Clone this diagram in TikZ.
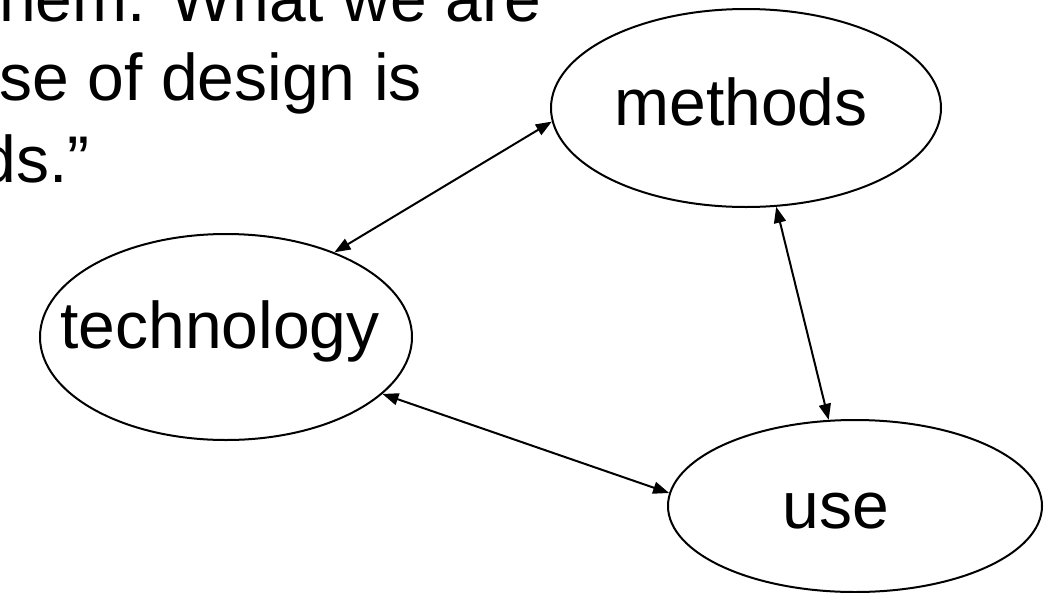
\documentclass[tikz,border=0pt]{standalone}
\usepackage{fontspec}
\setmainfont{Liberation Sans}
\usetikzlibrary{arrows.meta,shapes.geometric}

\begin{document}
\begin{tikzpicture}[x=1pt,y=-1pt,>={Triangle[length=16pt,width=12pt]},
    bubble/.style={ellipse,draw,line width=2pt,inner sep=0pt},
    word/.style={anchor=base,inner sep=0pt,font=\fontsize{66}{79}\selectfont},
    quote/.style={word,anchor=base east},
    link/.style={<->,line width=2pt}]

    \useasboundingbox (0,0) rectangle (1044,592);
    \clip (0,0) rectangle (1044,592);

    % the quotation, cut off at the edge of the slide
    \node[quote] (line1) at (541,21) {hem. What we are};
    \node[quote] (line2) at (422,100) {se of design is};
    \node[quote] (line3) at (90,182) {ds.”};

    \node[bubble,minimum width=390pt,minimum height=198pt] (methods) at (746,108) {};
    \node[bubble,minimum width=372pt,minimum height=206pt] (tech) at (226,337) {};
    \node[bubble,minimum width=374pt,minimum height=172pt] (use) at (855,506) {};

    \node[word] (methodsword) at (741,125) {methods};
    \node[word] (techword) at (220,348) {technology};
    \node[word] (useword) at (836,528) {use};

    \draw[link] (tech.38) -- (methods.184);
    \draw[link] (methods.287) -- (use.107);
    \draw[link] (tech.340) -- (use.176);
\end{tikzpicture}
\end{document}
